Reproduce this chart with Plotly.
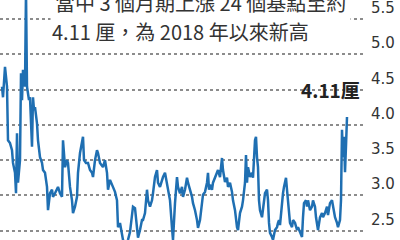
import plotly.graph_objects as go

# time index (weeks, oldest -> newest)
t = [2, 3, 5, 7, 8, 10, 12, 13, 15, 16, 17, 18, 20, 21, 22, 23, 25, 26, 27, 29,
     30, 32, 33, 34, 35, 37, 38, 40, 42, 43, 45, 47, 48, 50, 52, 53, 55, 57, 58, 60,
     62, 63, 65, 67, 68, 70, 72, 73, 75, 77, 78, 80, 82, 83, 84, 86, 88, 90, 92, 93,
     95, 97, 98, 100, 103, 105, 107, 108, 110, 113, 115, 117, 118, 120, 122, 123, 126, 128, 130, 132,
     133, 135, 137, 138, 140, 142, 143, 145, 147, 148, 150, 152, 153, 155, 157, 158, 160, 162, 163, 165,
     167, 168, 170, 172, 173, 175, 177, 178, 180, 182, 183, 185, 187, 188, 190, 192, 193, 195, 197, 198,
     200, 202, 203, 205, 207, 208, 209, 210, 212, 213, 215, 217, 218, 220, 222, 223, 225, 227, 228, 230,
     232, 233, 235, 237, 238, 240, 242, 243, 245, 246, 247, 248, 250, 252, 253, 255, 256, 257, 258, 259,
     260, 262, 263, 265, 267, 268, 269, 270, 272, 273, 275, 277, 278, 279, 280, 282, 283, 284, 286, 287,
     288, 290, 292, 293, 295, 297, 298, 300, 302, 303, 304, 306, 307, 308, 310, 312, 313, 315, 316, 318,
     320, 322, 323, 325, 327, 328, 330, 332, 333, 335, 337, 338, 340, 341, 342, 343, 344, 345, 346, 347]

# 3-month rate (%)
rate = [4.54, 4.39, 4.82, 4.54, 3.78, 3.74, 3.64, 3.46, 3.32, 3.03, 3.88, 3.18, 3.50, 4.73, 4.35, 4.78, 4.54, 5.90, 4.54, 4.35,
        4.39, 3.69, 4.39, 4.21, 4.25, 4.02, 3.78, 3.54, 3.46, 3.36, 3.32, 3.12, 2.79, 3.03, 3.08, 2.98, 3.03, 3.08, 3.12, 3.03,
        2.98, 3.78, 3.40, 3.50, 3.46, 3.12, 2.93, 2.75, 2.84, 2.98, 3.32, 3.60, 3.78, 3.83, 3.50, 3.46, 3.46, 3.36, 3.32, 3.26,
        3.50, 3.64, 3.60, 3.46, 3.40, 3.50, 3.32, 3.08, 3.22, 3.12, 3.05, 2.93, 2.55, 2.61, 2.47, 2.37, 2.30, 2.37, 2.48, 2.69,
        2.84, 2.82, 2.51, 2.40, 2.51, 2.65, 2.65, 2.75, 3.08, 2.93, 2.84, 2.93, 3.03, 3.26, 3.36, 3.18, 3.12, 3.22, 3.26, 3.32,
        3.18, 3.08, 2.93, 2.54, 2.37, 2.89, 3.26, 3.12, 3.03, 3.12, 2.98, 3.08, 3.25, 3.18, 3.08, 2.98, 2.89, 2.79, 2.65, 2.54,
        2.65, 2.93, 3.01, 3.05, 3.18, 3.32, 3.08, 3.15, 3.08, 3.18, 3.25, 3.32, 3.36, 3.26, 3.53, 3.36, 3.19, 3.25, 3.12, 3.18,
        3.05, 2.93, 2.79, 2.55, 2.51, 2.75, 2.84, 2.93, 3.18, 3.57, 3.18, 3.40, 3.26, 3.32, 3.25, 3.78, 3.83, 3.54, 3.40, 2.93,
        2.79, 2.69, 2.84, 3.03, 3.08, 2.93, 2.61, 2.47, 2.41, 2.37, 2.51, 2.55, 2.61, 2.65, 2.58, 2.93, 3.03, 3.12, 3.25, 3.08,
        2.89, 2.61, 2.55, 2.65, 2.61, 2.51, 2.55, 2.47, 2.41, 2.69, 2.89, 2.93, 2.84, 2.93, 2.79, 2.84, 2.93, 2.84, 2.69, 2.51,
        2.69, 2.75, 2.69, 2.75, 2.84, 2.72, 2.89, 2.93, 2.84, 2.69, 2.61, 2.55, 2.65, 2.93, 3.93, 3.54, 3.83, 3.33, 3.70, 4.11]

tick_vals = [2.5, 3.0, 3.5, 4.0, 4.5, 5.0, 5.5]
tick_text = ["2.5", "3.0", "3.5", "4.0", "4.5", "5.0", "5.5"]

title_line1 = "當中 3 個月期上漲 24 個基點至約"
title_line2 = "4.11 厘，為 2018 年以來新高"
last_label = "4.11厘"

W, H = 400, 240
X_RANGE = [0, 365]

fig = go.Figure()

fig.add_trace(go.Scatter(
    x=t, y=rate, mode="lines",
    line=dict(color="#1f6fb2", width=2.5),
    hoverinfo="skip", showlegend=False,
))

fig.update_layout(
    width=W, height=H,
    margin=dict(l=0, r=35, t=0, b=0),
    paper_bgcolor="white", plot_bgcolor="white",
    xaxis=dict(range=X_RANGE, visible=False, showgrid=False, zeroline=False),
    yaxis=dict(
        range=[2.368, 5.768], side="right",
        tickvals=tick_vals, showticklabels=False,
        showgrid=True, gridcolor="#8c8c8c", gridwidth=1.5, griddash="dot",
        layer="below traces",
        zeroline=False, showline=False, ticks="",
    ),
    font=dict(family="Noto Sans CJK TC"),
)

for v, s in zip(tick_vals, tick_text):
    fig.add_annotation(
        xref="paper", yref="y", x=1, y=v, xshift=5, yshift=1,
        xanchor="left", yanchor="bottom", text=s, showarrow=False,
        font=dict(family="DejaVu Sans", size=15, color="#333333"),
        borderpad=0,
    )

fig.add_annotation(
    xref="paper", yref="paper", x=50 / 365, y=1 - 3 / H,
    xanchor="left", yanchor="middle", text=title_line1, showarrow=False,
    font=dict(family="Noto Sans CJK TC", size=20, color="#333333"),
    bgcolor="white", borderpad=4,
)
fig.add_annotation(
    xref="paper", yref="paper", x=50 / 365, y=1 - 32 / H,
    xanchor="left", yanchor="middle", text=title_line2, showarrow=False,
    font=dict(family="Noto Sans CJK TC", size=20, color="#333333"),
)
fig.add_annotation(
    x=t[-1], y=rate[-1], xref="x", yref="y",
    xanchor="right", yanchor="bottom", xshift=15, yshift=12,
    text="<b>" + last_label + "</b>", showarrow=False,
    font=dict(family="Noto Sans CJK TC", size=19, color="#222222"),
)

fig.write_html("out.html")
